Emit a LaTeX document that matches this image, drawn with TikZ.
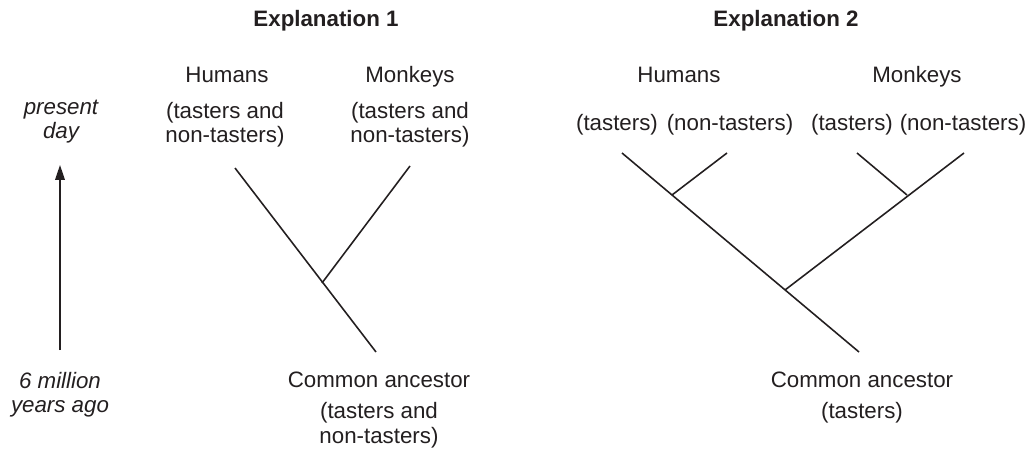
\documentclass[tikz,border=0pt]{standalone}
\usepackage{fontspec}
\setmainfont{Liberation Sans}
\usepackage{xcolor}
\usetikzlibrary{positioning,arrows.meta}
\definecolor{InkBlack}{HTML}{231F20}

\begin{document}
\begin{tikzpicture}[x=0.02cm, y=-0.02cm,
    every node/.style={font=\fontsize{12.7}{15}\selectfont, text=InkBlack, inner sep=0pt, anchor=base},
    branch/.style={draw=InkBlack, line width=0.9pt},
    timeline/.style={draw=InkBlack, line width=0.9pt, -{Triangle[length=8.5pt,width=5.5pt]}}]
  \useasboundingbox (0,0) rectangle (1036,453);
  % time axis
  \node (present) at (61,114) {\itshape present};
  \node (day) at (61,138) {\itshape day};
  \node (million) at (60,388) {\itshape 6 million};
  \node (yearsago) at (60,412) {\itshape years ago};
  \coordinate (tstart) at (60,350);
  \coordinate (tend) at (60,165);
  \draw[timeline] (tstart) -- (tend);
  % explanation 1
  \node (title1) at (326,27) {\bfseries Explanation 1};
  \node (humans1) at (227,82) {Humans};
  \node (monkeys1) at (410,82) {Monkeys};
  \node (humtast1) at (225,118) {(tasters and};
  \node (humnon1) at (225,142) {non-tasters)};
  \node (montast1) at (410,118) {(tasters and};
  \node (monnon1) at (410,142) {non-tasters)};
  \node (ancestor1) at (379,387) {Common ancestor};
  \node (anctast1) at (379,418) {(tasters and};
  \node (ancnon1) at (379,443) {non-tasters)};
  \coordinate (h1) at (235,168);
  \coordinate (m1) at (410,166);
  \coordinate (j1) at (322,283);
  \coordinate (r1) at (376,352);
  \draw[branch] (h1) -- (r1);
  \draw[branch] (j1) -- (m1);
  % explanation 2
  \node (title2) at (786,27) {\bfseries Explanation 2};
  \node (humans2) at (679,82) {Humans};
  \node (monkeys2) at (917,82) {Monkeys};
  \node (humtast2) at (617,131) {(tasters)};
  \node (humnon2) at (730,131) {(non-tasters)};
  \node (montast2) at (852,131) {(tasters)};
  \node (monnon2) at (963,131) {(non-tasters)};
  \node (ancestor2) at (862,387) {Common ancestor};
  \node (anctast2) at (862,418) {(tasters)};
  \coordinate (ht2) at (622,153);
  \coordinate (hn2) at (727,153);
  \coordinate (mt2) at (857,153);
  \coordinate (mn2) at (964,153);
  \coordinate (jh2) at (672,195);
  \coordinate (jm2) at (907,195);
  \coordinate (j2) at (785,290);
  \coordinate (r2) at (859,352);
  \draw[branch] (ht2) -- (r2);
  \draw[branch] (jh2) -- (hn2);
  \draw[branch] (j2) -- (mn2);
  \draw[branch] (jm2) -- (mt2);
\end{tikzpicture}
\end{document}
